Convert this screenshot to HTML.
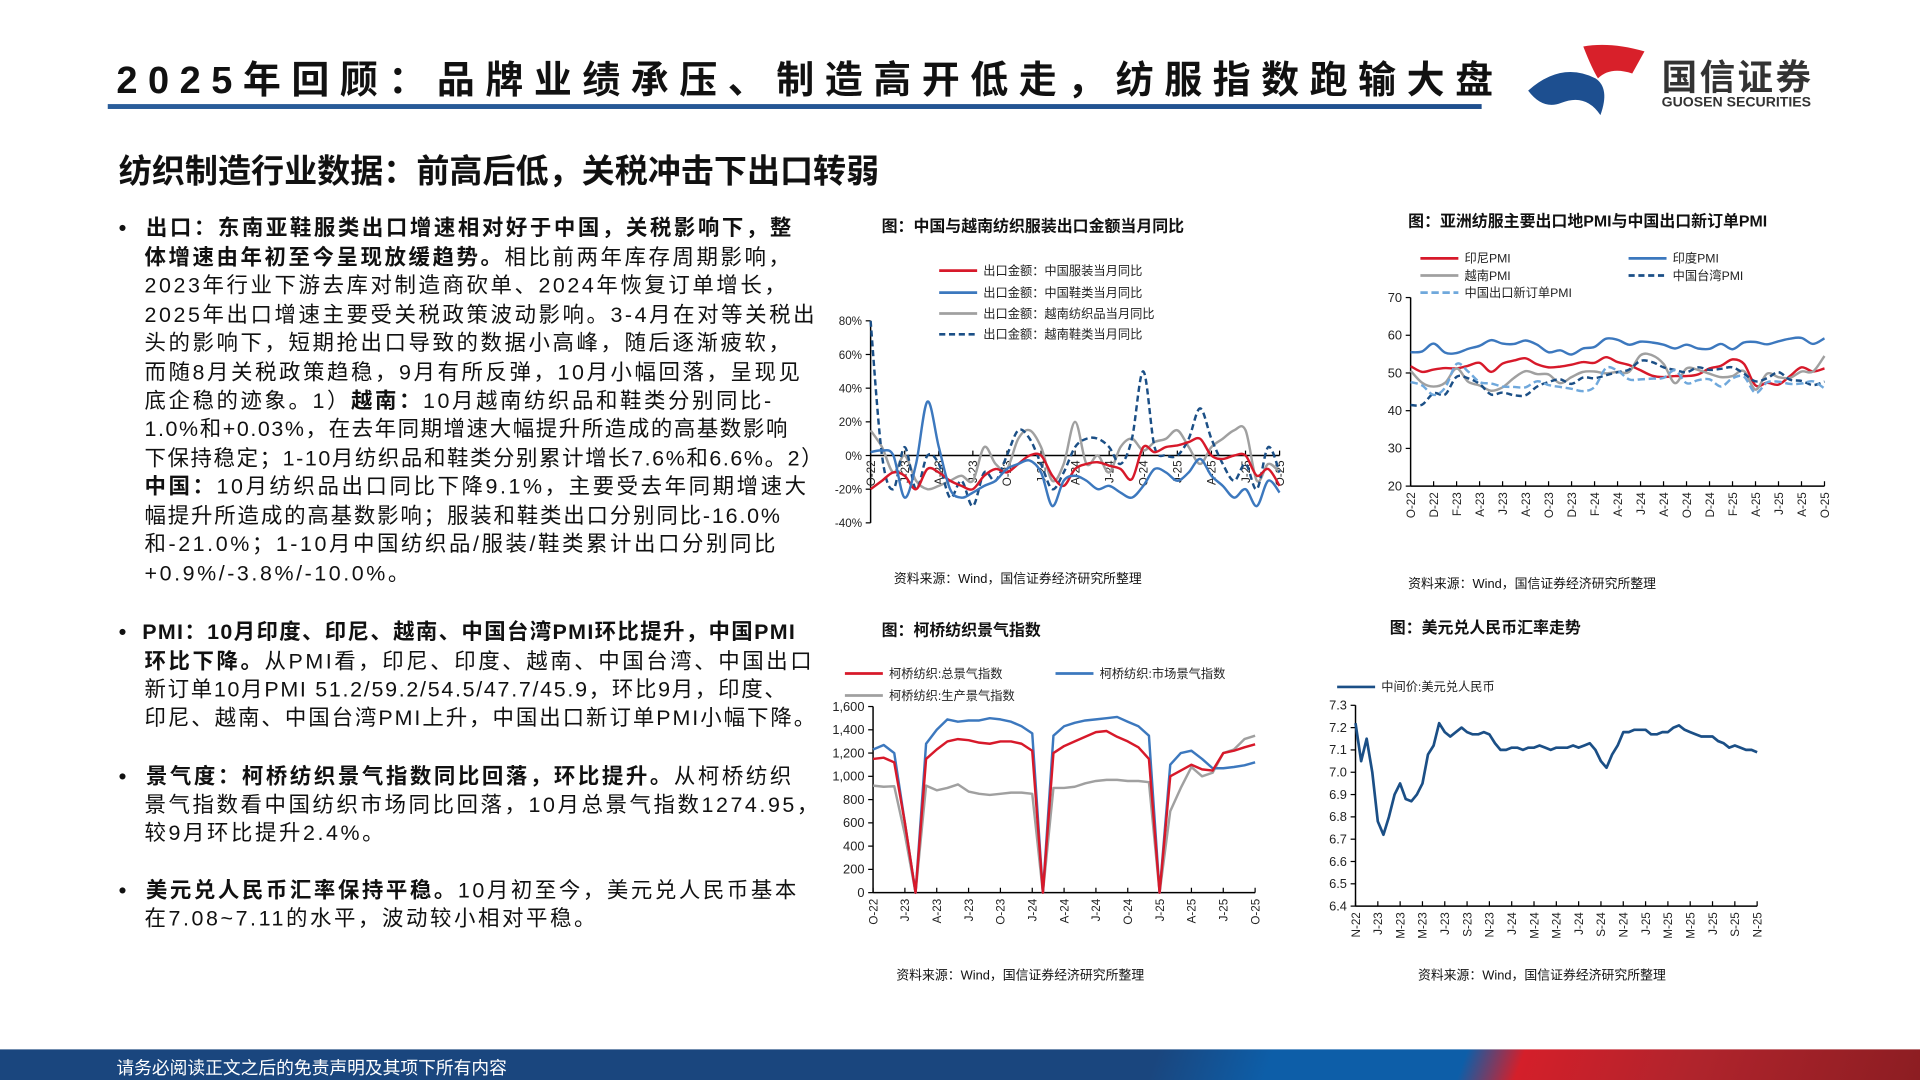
<!DOCTYPE html>
<html><head><meta charset="utf-8">
<style>
html,body{margin:0;padding:0;width:1920px;height:1080px;overflow:hidden;background:#fff}
#page{position:absolute;left:0;top:0;width:1568px;height:882px;transform:scale(1.22449);transform-origin:0 0;font-family:"Liberation Sans","Noto Sans CJK SC",sans-serif;color:#111}
.t{position:absolute;white-space:nowrap}
.body{font-size:17.5px;letter-spacing:2.1px;left:97px}
.body b{font-weight:bold}
.ct{position:absolute;font-size:13px;font-weight:bold;white-space:nowrap}
.src{position:absolute;font-size:10.5px;white-space:nowrap}
svg text{font-family:"Liberation Sans","Noto Sans CJK SC",sans-serif}
</style></head><body>
<div id="page">
<div class="t" style="left:95px;top:40px;font-size:31px;font-weight:bold;letter-spacing:8.6px">2025年回顾：品牌业绩承压、制造高开低走，纺服指数跑输大盘</div>
<div style="position:absolute;left:88px;top:85px;width:1122px;height:4px;background:linear-gradient(90deg,#2a5d9a,#1f4f8e)"></div>
<svg style="position:absolute;left:1245px;top:34px" width="105" height="64">
<path d="M48 4 Q70 0 98 8 L88 26 Q70 20 60 30 Q55 22 48 4Z" fill="#d8202a"/>
<path d="M3 40 Q30 16 58 30 Q70 38 62 60 Q50 42 30 50 Q15 56 3 40Z" fill="#1d4f90"/>
</svg>
<div class="t" style="left:1357px;top:40px;font-size:29px;font-weight:bold;color:#333;letter-spacing:2px">国信证券</div>
<div class="t" style="left:1357px;top:78px;font-size:11.5px;font-weight:bold;color:#333">GUOSEN SECURITIES</div>
<div class="t" style="left:97px;top:118px;font-size:27px;font-weight:bold">纺织制造行业数据：前高后低，关税冲击下出口转弱</div>

<div>
<div class="t body" style="top:173px"><b>•&nbsp; 出口：东南亚鞋服类出口增速相对好于中国，关税影响下，整</b></div>
<div class="t body" style="top:197px;left:118px"><b>体增速由年初至今呈现放缓趋势。</b>相比前两年库存周期影响，</div>
<div class="t body" style="top:220px;left:118px">2023年行业下游去库对制造商砍单、2024年恢复订单增长，</div>
<div class="t body" style="top:244px;left:118px">2025年出口增速主要受关税政策波动影响。3-4月在对等关税出</div>
<div class="t body" style="top:267px;left:118px">头的影响下，短期抢出口导致的数据小高峰，随后逐渐疲软，</div>
<div class="t body" style="top:291px;left:118px">而随8月关税政策趋稳，9月有所反弹，10月小幅回落，呈现见</div>
<div class="t body" style="top:314px;left:118px">底企稳的迹象。1）<b>越南：</b>10月越南纺织品和鞋类分别同比-</div>
<div class="t body" style="top:337px;left:118px;letter-spacing:1.3px">1.0%和+0.03%，在去年同期增速大幅提升所造成的高基数影响</div>
<div class="t body" style="top:361px;left:118px;letter-spacing:1.3px">下保持稳定；1-10月纺织品和鞋类分别累计增长7.6%和6.6%。2）</div>
<div class="t body" style="top:384px;left:118px"><b>中国：</b>10月纺织品出口同比下降9.1%，主要受去年同期增速大</div>
<div class="t body" style="top:408px;left:118px;letter-spacing:1.5px">幅提升所造成的高基数影响；服装和鞋类出口分别同比-16.0%</div>
<div class="t body" style="top:431px;left:118px">和-21.0%；1-10月中国纺织品/服装/鞋类累计出口分别同比</div>
<div class="t body" style="top:455px;left:118px">+0.9%/-3.8%/-10.0%。</div>
<div class="t body" style="top:503px;letter-spacing:1.1px"><b>•&nbsp; PMI：10月印度、印尼、越南、中国台湾PMI环比提升，中国PMI</b></div>
<div class="t body" style="top:527px;left:118px"><b>环比下降。</b>从PMI看，印尼、印度、越南、中国台湾、中国出口</div>
<div class="t body" style="top:550px;left:118px;letter-spacing:1.4px">新订单10月PMI 51.2/59.2/54.5/47.7/45.9，环比9月，印度、</div>
<div class="t body" style="top:573px;left:118px;letter-spacing:1.6px">印尼、越南、中国台湾PMI上升，中国出口新订单PMI小幅下降。</div>
<div class="t body" style="top:621px"><b>•&nbsp; 景气度：柯桥纺织景气指数同比回落，环比提升。</b>从柯桥纺织</div>
<div class="t body" style="top:644px;left:118px">景气指数看中国纺织市场同比回落，10月总景气指数1274.95，</div>
<div class="t body" style="top:667px;left:118px">较9月环比提升2.4%。</div>
<div class="t body" style="top:714px"><b>•&nbsp; 美元兑人民币汇率保持平稳。</b>10月初至今，美元兑人民币基本</div>
<div class="t body" style="top:737px;left:118px">在7.08~7.11的水平，波动较小相对平稳。</div>
</div>

<div class="ct" style="left:720px;top:174px">图：中国与越南纺织服装出口金额当月同比</div>
<div class="ct" style="left:1150px;top:170px">图：亚洲纺服主要出口地PMI与中国出口新订单PMI</div>
<div class="ct" style="left:720px;top:504px">图：柯桥纺织景气指数</div>
<div class="ct" style="left:1135px;top:502px">图：美元兑人民币汇率走势</div>
<div class="src" style="left:730px;top:465px">资料来源：Wind，国信证券经济研究所整理</div>
<div class="src" style="left:1150px;top:469px">资料来源：Wind，国信证券经济研究所整理</div>
<div class="src" style="left:732px;top:789px">资料来源：Wind，国信证券经济研究所整理</div>
<div class="src" style="left:1158px;top:789px">资料来源：Wind，国信证券经济研究所整理</div>

<svg id="charts" style="position:absolute;left:0;top:0" width="1568" height="882"></svg>

<div style="position:absolute;left:0;top:857px;width:1568px;height:25px;background:linear-gradient(110deg,#1a467e 0%,#1a467e 60%,#0d5ea8 66%,#0d5ea8 76%,#d41f2a 79%,#b0242c 88%,#8c1d22 100%)"></div>
<div class="t" style="left:95px;top:861px;font-size:14.5px;color:#fff">请务必阅读正文之后的免责声明及其项下所有内容</div>
</div>

<script>
// ---- Chart 1 data (O-22..O-25 monthly, %)
const c1Ticks = ["80%","60%","40%","20%","0%","-20%","-40%"];
const c1TickVals = [80,60,40,20,0,-20,-40];
const c1XLabels = ["O-22","J-23","A-23","J-23","O-23","J-24","A-24","J-24","O-24","J-25","A-25","J-25","O-25"];
const c1CnApparel = [-20,-15,-10,-12,-20,-8,-10,-15,-18,-20,-12,-8,-10,-5,0,0,-12,-18,-8,-5,-4,-6,-8,-14,5,2,5,6,8,10,0,-2,0,0,-12,-8,-18];
const c1CnShoes = [2,3,0,-25,-5,32,5,-20,-25,-22,-18,-15,-8,-5,-3,-10,-30,-15,-12,-15,-20,-18,-22,-25,-18,-8,-10,-15,-10,-2,-12,-18,-25,-20,-30,-15,-22];
const c1VnTextile = [15,5,-10,0,-15,-20,-18,-15,-12,-15,5,-5,-8,10,15,5,-15,-5,20,-5,0,-10,5,10,3,8,10,15,5,-5,5,10,15,15,-15,-5,-10];
const c1VnShoes = [80,0,-20,5,-20,0,-5,-25,-15,-30,-10,-15,0,15,10,-5,-20,-10,5,10,10,5,-5,10,50,5,0,0,10,28,10,-5,-15,-5,-20,5,-10];
// ---- Chart 2 data (PMI)
const c2TickVals = [70,60,50,40,30,20];
const c2XLabels = ["O-22","D-22","F-23","A-23","J-23","A-23","O-23","D-23","F-24","A-24","J-24","A-24","O-24","D-24","F-25","A-25","J-25","A-25","O-25"];
const c2India = [55.5,55.7,57.8,55.4,55.3,56.4,57.2,58.7,57.8,57.7,58.6,57.5,55.5,56,54.9,56.5,56.9,59.1,58.8,57.5,58.3,58.1,57.5,56.5,57.5,56.5,56.4,57.7,56.3,58.1,58.2,57.6,58.4,59.1,59.3,57.7,59.2];
const c2Indonesia = [51.8,50.3,50.9,51.3,51.2,51.9,52.7,50.3,52.5,53.3,53.9,52.3,51.5,51.7,52.2,52.9,52.7,54.2,52.9,52.1,50.7,49.3,48.9,49.2,49.2,49.6,51.2,51.9,53.6,52.4,46.7,47.4,46.9,49.2,51.5,50.4,51.2];
const c2Vietnam = [50.6,47.4,46.4,47.4,51.2,47.7,46.7,45.3,46.2,48.7,50.5,49.7,49.6,47.3,48.9,50.3,50.4,49.9,50.3,50.3,54.7,54.7,52.4,47.3,51.2,50.8,49.8,48.9,49.2,50.5,45.6,49.8,48.9,48.7,50.4,50.4,54.5];
const c2Taiwan = [41.5,41.6,44.6,44.3,49,48.6,47.1,44.3,44.8,44.1,44.1,46.4,47.6,48.3,47.1,48.8,48.6,49.4,50.2,50.9,53.2,52.9,51.5,50.8,50.2,51.5,50.8,51.1,51.5,49.8,47.8,48.6,50.2,48.2,47.9,46.8,47.7];
const c2CnExport = [47.6,46.7,44.2,46.1,52.4,50.4,47.6,47.2,46.4,46.3,46.2,47.8,46.8,46.3,45.8,45.2,46.3,51.3,50.6,48.3,48.3,48.5,48.7,50.7,47.3,48.1,48.3,46.4,48.6,49,44.7,47.5,47.7,47.1,47.2,47.8,45.9];
// ---- Chart 3 data (Keqiao index)
const c3Ticks = ["1,600","1,400","1,200","1,000","800","600","400","200","0"];
const c3TickVals = [1600,1400,1200,1000,800,600,400,200,0];
const c3XLabels = ["O-22","J-23","A-23","J-23","O-23","J-24","A-24","J-24","O-24","J-25","A-25","J-25","O-25"];
const c3Total = [1150,1160,1120,600,0,1150,1230,1300,1320,1310,1290,1280,1300,1300,1280,1220,0,1200,1260,1300,1340,1380,1390,1340,1300,1250,1150,0,1000,1050,1100,1060,1050,1200,1220,1250,1275];
const c3Market = [1230,1270,1200,600,0,1280,1400,1490,1470,1480,1480,1500,1490,1470,1430,1370,0,1350,1430,1460,1480,1490,1500,1510,1470,1430,1350,0,1100,1200,1220,1150,1070,1070,1080,1095,1120];
const c3Production = [920,910,915,500,0,920,880,900,930,870,850,840,850,860,860,850,0,900,900,910,940,960,970,970,960,960,950,0,700,900,1080,1000,1030,1200,1230,1320,1350];
// ---- Chart 4 data (USD/CNY, semi-monthly N-22..N-25)
const c4Ticks = ["7.3","7.2","7.1","7.0","6.9","6.8","6.7","6.6","6.5","6.4"];
const c4TickVals = [7.3,7.2,7.1,7.0,6.9,6.8,6.7,6.6,6.5,6.4];
const c4XLabels = ["N-22","J-23","M-23","M-23","J-23","S-23","N-23","J-24","M-24","M-24","J-24","S-24","N-24","J-25","M-25","M-25","J-25","S-25","N-25"];
const c4Rate = [7.22,7.05,7.15,7.0,6.78,6.72,6.80,6.90,6.95,6.88,6.87,6.90,6.95,7.08,7.12,7.22,7.18,7.16,7.18,7.20,7.18,7.17,7.17,7.18,7.17,7.13,7.10,7.10,7.11,7.11,7.10,7.11,7.11,7.12,7.11,7.10,7.11,7.11,7.11,7.12,7.11,7.12,7.13,7.10,7.05,7.02,7.08,7.12,7.18,7.18,7.19,7.19,7.19,7.17,7.17,7.18,7.18,7.20,7.21,7.19,7.18,7.17,7.16,7.16,7.16,7.14,7.13,7.11,7.12,7.11,7.10,7.10,7.09];

const NS="http://www.w3.org/2000/svg";
const svg=document.getElementById('charts');
function mk(tag,attrs,parent){const e=document.createElementNS(NS,tag);for(const k in attrs)e.setAttribute(k,attrs[k]);(parent||svg).appendChild(e);return e;}
function pathD(pts,smooth){
  if(!smooth)return pts.map((p,i)=>(i?'L':'M')+p[0].toFixed(1)+' '+p[1].toFixed(1)).join('');
  let d='M'+pts[0][0]+' '+pts[0][1];
  for(let i=0;i<pts.length-1;i++){const p0=pts[i-1]||pts[i],p1=pts[i],p2=pts[i+1],p3=pts[i+2]||p2;
    const c1x=p1[0]+(p2[0]-p0[0])/6,c1y=p1[1]+(p2[1]-p0[1])/6,c2x=p2[0]-(p3[0]-p1[0])/6,c2y=p2[1]-(p3[1]-p1[1])/6;
    d+=`C${c1x.toFixed(1)} ${c1y.toFixed(1)} ${c2x.toFixed(1)} ${c2y.toFixed(1)} ${p2[0].toFixed(1)} ${p2[1].toFixed(1)}`;}
  return d;
}
function chart(cfg){
  const g=mk('g',{});
  
  
  const ys=v=>cfg.yTop+(cfg.ymax-v)/(cfg.ymax-cfg.ymin)*(cfg.yBot-cfg.yTop);
  const n=cfg.series[0].data.length;
  const xs=i=>cfg.x0+i*(cfg.x1-cfg.x0)/(n-1);
  const ya=mk('line',{x1:cfg.x0,x2:cfg.x0,y1:ys(cfg.ymax),y2:ys(cfg.ymin),stroke:'#000','stroke-width':1.2},g);
  
  
  cfg.tickVals.forEach((v,i)=>{
    mk('line',{x1:cfg.x0-4,x2:cfg.x0,y1:ys(v),y2:ys(v),stroke:'#000'},g);
    const t=mk('text',{x:cfg.x0-7,y:ys(v)+3.5,'font-size':cfg.fs||10,'text-anchor':'end',fill:'#222'},g);
    t.textContent=cfg.tickLabels?cfg.tickLabels[i]:String(v);
    
    
  });
  const axY=ys(cfg.xAxisAt);
  const xa=mk('line',{x1:cfg.x0,x2:cfg.x1,y1:axY,y2:axY,stroke:'#000','stroke-width':1.2},g);
  
  
  const L=cfg.xLabels.length;
  cfg.xLabels.forEach((lab,i)=>{
    const x=cfg.x0+i*(cfg.x1-cfg.x0)/(L-1);
    mk('line',{x1:x,x2:x,y1:axY,y2:axY-4,stroke:'#000'},g);
    const ly=cfg.labelY||axY+4;
    const t=mk('text',{x:0,y:0,'font-size':9.5,'text-anchor':'end',fill:'#222',transform:`translate(${x+3.5},${ly}) rotate(-90)`},g);
    t.textContent=lab;
    
    
  });
  cfg.series.forEach(s=>{
    const pts=s.data.map((v,i)=>[xs(i),ys(v)]);
    const p=mk('path',{d:pathD(pts,cfg.smooth),fill:'none',stroke:s.color,'stroke-width':s.w||2,'stroke-dasharray':s.dash||'none','stroke-linejoin':'round'},g);
    
    
  });
  (cfg.legend||[]).forEach(l=>{
    mk('line',{x1:l.x,x2:l.x+31,y1:l.y,y2:l.y,stroke:l.color,'stroke-width':2.2,'stroke-dasharray':l.dash||'none'},g);
    const t=mk('text',{x:l.x+36,y:l.y+3.5,'font-size':l.fs||10,fill:'#222'},g);
    t.textContent=l.text;
    
    
  });
}
const RED='#d7192a',BLUE='#3c78be',GRAY='#a0a0a0',NAVY='#1b4f86',LBLUE='#6fa8dc';
chart({name:'chart1-export-yoy',x0:711,x1:1045,yTop:262,yBot:427,ymax:80,ymin:-40,xAxisAt:0,tickVals:c1TickVals,tickLabels:c1Ticks,xLabels:c1XLabels,labelY:376,smooth:true,fs:9.5,
 series:[{name:'line-vn-textile',data:c1VnTextile,color:GRAY},{name:'line-vn-shoes',data:c1VnShoes,color:NAVY,dash:'5 3'},{name:'line-cn-apparel',data:c1CnApparel,color:RED},{name:'line-cn-shoes',data:c1CnShoes,color:BLUE}],
 legend:[{x:767,y:221,color:RED,text:'出口金额：中国服装当月同比'},{x:767,y:239,color:BLUE,text:'出口金额：中国鞋类当月同比'},{x:767,y:256,color:GRAY,text:'出口金额：越南纺织品当月同比'},{x:767,y:273,color:NAVY,dash:'5 3',text:'出口金额：越南鞋类当月同比'}]});
chart({name:'chart2-pmi',x0:1152,x1:1490,yTop:243,yBot:397,ymax:70,ymin:20,xAxisAt:20,tickVals:c2TickVals,xLabels:c2XLabels,labelY:402,smooth:true,fs:10.5,
 series:[{name:'line-india-pmi',data:c2India,color:BLUE},{name:'line-indonesia-pmi',data:c2Indonesia,color:RED},{name:'line-vietnam-pmi',data:c2Vietnam,color:GRAY},{name:'line-taiwan-pmi',data:c2Taiwan,color:NAVY,dash:'5 3'},{name:'line-cn-export-orders',data:c2CnExport,color:LBLUE,dash:'6 3'}],
 legend:[{x:1160,y:211,color:RED,text:'印尼PMI'},{x:1330,y:211,color:BLUE,text:'印度PMI'},{x:1160,y:225,color:GRAY,text:'越南PMI'},{x:1330,y:225,color:NAVY,dash:'5 3',text:'中国台湾PMI'},{x:1160,y:239,color:LBLUE,dash:'6 3',text:'中国出口新订单PMI'}]});
chart({name:'chart3-keqiao',x0:713,x1:1025,yTop:577,yBot:729,ymax:1600,ymin:0,xAxisAt:0,tickVals:c3TickVals,tickLabels:c3Ticks,xLabels:c3XLabels,labelY:734,smooth:false,fs:10.5,
 series:[{name:'line-production-index',data:c3Production,color:GRAY},{name:'line-market-index',data:c3Market,color:BLUE},{name:'line-total-index',data:c3Total,color:RED}],
 legend:[{x:690,y:550,color:RED,text:'柯桥纺织:总景气指数'},{x:862,y:550,color:BLUE,text:'柯桥纺织:市场景气指数'},{x:690,y:568,color:GRAY,text:'柯桥纺织:生产景气指数'}]});
chart({name:'chart4-usdcny',x0:1107,x1:1435,yTop:576,yBot:740,ymax:7.3,ymin:6.4,xAxisAt:6.4,tickVals:c4TickVals,tickLabels:c4Ticks,xLabels:c4XLabels,labelY:745,smooth:false,fs:10.5,
 series:[{name:'line-usdcny',data:c4Rate,color:NAVY,w:2.2}],
 legend:[{x:1092,y:561,color:NAVY,text:'中间价:美元兑人民币'}]});
</script>
</body></html>
